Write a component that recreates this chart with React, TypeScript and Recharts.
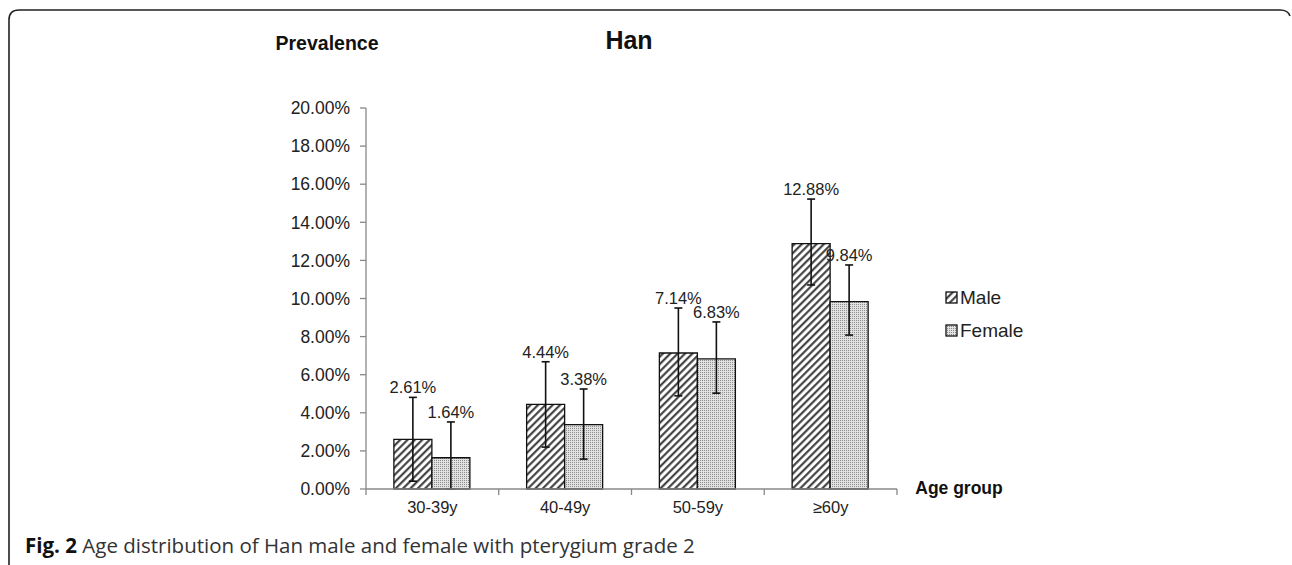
import React from "react";
import { BarChart, Bar, XAxis, YAxis, ErrorBar, LabelList, Customized } from "recharts";

const categories = ["30-39y", "40-49y", "50-59y", "≥60y"];
const maleValues = [2.61, 4.44, 7.14, 12.88];
const femaleValues = [1.64, 3.38, 6.83, 9.84];
const maleErrors: [number, number][] = [[2.2, 2.2], [2.24, 2.24], [2.25, 2.36], [2.17, 2.34]];
const femaleErrors: [number, number][] = [[1.64, 1.88], [1.81, 1.87], [1.8, 1.94], [1.76, 1.92]];
const yTicks = [0, 2, 4, 6, 8, 10, 12, 14, 16, 18, 20];
const seriesNames = ["Male", "Female"];

const data = categories.map((c, i) => ({
  name: c,
  male: maleValues[i],
  female: femaleValues[i],
  maleErr: maleErrors[i],
  femaleErr: femaleErrors[i],
}));

const FONT = "'Liberation Sans', Arial, sans-serif";
const X_TICK_SIZE = 6;
const X_TICK_MARGIN = 6;

const makeLabel = (errs: [number, number][]) => (props: any) => {
  const { x, y, width, height, value, index } = props;
  if (value == null) return null;
  const pxPerUnit = height / value;
  const top = y - pxPerUnit * errs[index][1];
  return (
    <text x={x + width / 2} y={top - 4} textAnchor="middle" fontSize={16.5} fontFamily={FONT} fill="#222">
      {`${value.toFixed(2)}%`}
    </text>
  );
};

const CategoryTick = (props: any) => {
  const { x, y, payload, width, visibleTicksCount, index } = props;
  const half = width / visibleTicksCount / 2;
  const axisY = y - X_TICK_SIZE - X_TICK_MARGIN;
  const isLast = index === visibleTicksCount - 1;
  return (
    <g>
      <line x1={x - half} x2={x - half} y1={axisY} y2={axisY + X_TICK_SIZE} stroke="#888" strokeWidth={1.3} />
      {isLast && (
        <line x1={x + half} x2={x + half} y1={axisY} y2={axisY + X_TICK_SIZE} stroke="#888" strokeWidth={1.3} />
      )}
      <text x={x} y={y} dy="0.75em" textAnchor="middle" fontSize={16.5} fontFamily={FONT} fill="#222">
        {payload.value}
      </text>
    </g>
  );
};

const LegendBox = () => (
  <div style={{ position: "absolute", left: 945, top: 281, fontFamily: FONT, fontSize: 19, color: "#222", lineHeight: "33px" }}>
    {[
      { name: seriesNames[0], fill: "url(#hatchMale)" },
      { name: seriesNames[1], fill: "url(#dotFemale)" },
    ].map((it) => (
      <div key={it.name} style={{ display: "flex", alignItems: "center" }}>
        <svg width={13} height={13} style={{ marginRight: 2 }}>
          <rect x={1} y={1} width={11} height={11} fill={it.fill} stroke="#111" strokeWidth={1.3} />
        </svg>
        <span>{it.name}</span>
      </div>
    ))}
  </div>
);

const Texts = () => (
  <g fontFamily={FONT}>
    <text x={629} y={49} textAnchor="middle" fontSize={25} fontWeight="bold" fill="#111">Han</text>
    <text x={327} y={50} textAnchor="middle" fontSize={19.5} fontWeight="bold" fill="#111">Prevalence</text>
    <text x={959} y={494} textAnchor="middle" fontSize={17.5} fontWeight="bold" fill="#111">Age group</text>
  </g>
);

export default function App() {
  return (
    <div style={{ position: "absolute", left: 0, top: 0, width: 1292, height: 565, background: "#fff", overflow: "hidden" }}>
      <svg width={0} height={0} style={{ position: "absolute" }}>
        <defs>
          <pattern id="hatchMale" width={5.2} height={5.2} patternUnits="userSpaceOnUse" patternTransform="rotate(45)">
            <rect width={5.2} height={5.2} fill="#fff" />
            <line x1={1.2} y1={0} x2={1.2} y2={5.2} stroke="#333" strokeWidth={2} />
          </pattern>
          <pattern id="dotFemale" width={2} height={2} patternUnits="userSpaceOnUse">
            <rect width={2} height={2} fill="#e2e2e2" />
            <rect width={1} height={1} fill="#8c8c8c" />
          </pattern>
        </defs>
      </svg>
      <svg width={1292} height={565} style={{ position: "absolute", left: 0, top: 0 }}>
        <path d="M 9 575 L 9 20 Q 9 10 19 10 L 1280 10 Q 1288 10 1290 16" fill="none" stroke="#222" strokeWidth={1.6} />
        <text x={25} y={553} fontFamily="'Open Sans', sans-serif" fontSize={20.5} fill="#333">
          <tspan fontWeight="bold" fill="#111">Fig. 2</tspan>
          <tspan> Age distribution of Han male and female with pterygium grade 2</tspan>
        </text>
      </svg>
      <div style={{ position: "absolute", left: 0, top: 0 }}>
        <BarChart
          width={1292}
          height={565}
          data={data}
          margin={{ top: 108, right: 395, bottom: 46, left: 286 }}
          barGap={0}
          barCategoryGap="21%"
        >
          <XAxis
            dataKey="name"
            height={30}
            interval={0}
            axisLine={{ stroke: "#888", strokeWidth: 1.3 }}
            tickLine={false}
            tickSize={X_TICK_SIZE}
            tickMargin={X_TICK_MARGIN}
            tick={<CategoryTick />}
          />
          <YAxis
            domain={[0, 20]}
            ticks={yTicks}
            width={80}
            interval={0}
            tickFormatter={(v: number) => `${v.toFixed(2)}%`}
            tick={{ fontSize: 17.5, fontFamily: FONT, fill: "#222" }}
            tickSize={6}
            tickMargin={10}
            axisLine={{ stroke: "#888", strokeWidth: 1.3 }}
            tickLine={{ stroke: "#888", strokeWidth: 1.3 }}
          />
          <Bar dataKey="male" name="Male" fill="url(#hatchMale)" stroke="#111" strokeWidth={1.3} isAnimationActive={false}>
            <ErrorBar dataKey="maleErr" width={4} stroke="#111" strokeWidth={1.6} direction="y" />
            <LabelList dataKey="male" content={makeLabel(maleErrors)} />
          </Bar>
          <Bar dataKey="female" name="Female" fill="url(#dotFemale)" stroke="#111" strokeWidth={1.3} isAnimationActive={false}>
            <ErrorBar dataKey="femaleErr" width={4} stroke="#111" strokeWidth={1.6} direction="y" />
            <LabelList dataKey="female" content={makeLabel(femaleErrors)} />
          </Bar>
          <Customized component={Texts} />
        </BarChart>
      </div>
      <LegendBox />
    </div>
  );
}
